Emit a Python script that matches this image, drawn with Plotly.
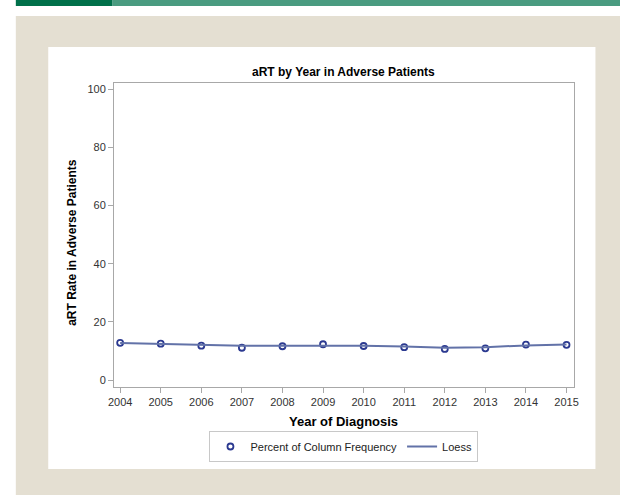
import plotly.graph_objects as go

years = [2004, 2005, 2006, 2007, 2008, 2009, 2010, 2011, 2012, 2013, 2014, 2015]
percent_col_freq = [12.8, 12.5, 11.8, 11.1, 11.6, 12.3, 11.7, 11.3, 10.7, 10.9, 12.2, 12.1]
loess = [12.7, 12.4, 12.0, 11.8, 11.8, 11.9, 11.8, 11.5, 11.1, 11.3, 11.9, 12.2]
y_ticks = [0, 20, 40, 60, 80, 100]

title_text = "aRT by Year in Adverse Patients"
x_title = "Year of Diagnosis"
y_title = "aRT Rate in Adverse Patients"

W, H = 625, 495
FONT = "Arial, Liberation Sans, sans-serif"

def px(x):
    return x / W

def py(y):
    return 1 - y / H

fig = go.Figure()
fig.add_trace(go.Scatter(
    x=years, y=percent_col_freq, mode="markers", name="Percent of Column Frequency",
    marker=dict(symbol="circle-open", size=6, color="#2B3990", line=dict(width=1.8, color="#2B3990")),
))
fig.add_trace(go.Scatter(
    x=years, y=loess, mode="lines", name="Loess",
    line=dict(color="#6272A8", width=2),
))

shapes = [
    dict(type="rect", xref="paper", yref="paper", x0=px(10), x1=px(108), y0=py(0), y1=py(6),
         fillcolor="#00704A", line=dict(width=0), layer="below"),
    dict(type="rect", xref="paper", yref="paper", x0=px(108), x1=px(625), y0=py(0), y1=py(6),
         fillcolor="#4A9B80", line=dict(width=0), layer="below"),
    dict(type="rect", xref="paper", yref="paper", x0=px(10), x1=px(625), y0=py(16), y1=py(495),
         fillcolor="#E4DFD2", line=dict(width=0), layer="below"),
    dict(type="rect", xref="paper", yref="paper", x0=px(43), x1=px(600), y0=py(47), y1=py(469),
         fillcolor="#FFFFFF", line=dict(width=0), layer="below"),
]

annotations = [
    dict(text="<b>" + title_text + "</b>", xref="paper", yref="paper", x=px(344), y=py(72),
         xanchor="center", yanchor="middle", showarrow=False, font=dict(size=12, color="#000", family=FONT)),
    dict(text="<b>" + x_title + "</b>", xref="paper", yref="paper", x=px(344), y=py(421),
         xanchor="center", yanchor="middle", showarrow=False, font=dict(size=13, color="#000", family=FONT)),
    dict(text="<b>" + y_title + "</b>", xref="paper", yref="paper", x=px(67), y=py(242),
         xanchor="center", yanchor="middle", showarrow=False, textangle=-90,
         font=dict(size=12, color="#000", family=FONT)),
]

fig.update_layout(
    width=W, height=H,
    margin=dict(l=0, r=0, t=0, b=0),
    paper_bgcolor="#FFFFFF", plot_bgcolor="#FFFFFF",
    font=dict(family=FONT, size=10.5, color="#333"),
    shapes=shapes, annotations=annotations,
    showlegend=True,
    legend=dict(orientation="h", x=px(344), xanchor="center", y=py(431), yanchor="top",
                bordercolor="#C8C8C8", borderwidth=1, bgcolor="#FFFFFF",
                font=dict(size=11, color="#222", family=FONT), itemwidth=30,
                tracegroupgap=0),
    xaxis=dict(domain=[px(110), px(578)], range=[2003.85, 2015.18],
               tickmode="array", tickvals=years, ticktext=[str(y) for y in years],
               showgrid=False, zeroline=False, showline=True, mirror=True,
               linecolor="#A8A8A8", linewidth=1, ticks="outside", ticklen=5, tickcolor="#A8A8A8",
               tickfont=dict(size=11, color="#333")),
    yaxis=dict(domain=[py(387), py(83)], range=[-2.4, 102.1],
               tickmode="array", tickvals=y_ticks,
               showgrid=False, zeroline=False, showline=True, mirror=True,
               linecolor="#A8A8A8", linewidth=1, ticks="outside", ticklen=5, tickcolor="#A8A8A8",
               tickfont=dict(size=11, color="#333")),
)

fig.write_html("out.html")
